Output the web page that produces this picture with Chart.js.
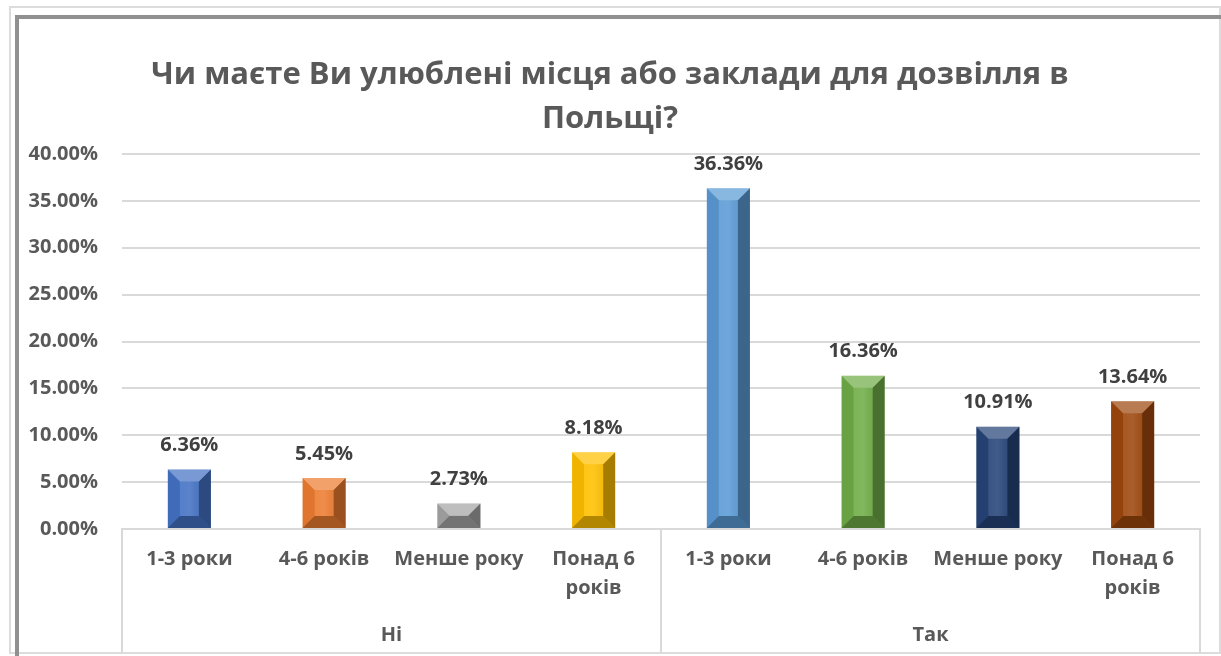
<!DOCTYPE html>
<html>
<head>
<meta charset="utf-8">
<script src="https://cdn.jsdelivr.net/npm/chart.js@4"></script>
<style>
  html, body { margin: 0; padding: 0; background: #fff; }
  #wrap { position: relative; width: 1221px; height: 656px; overflow: hidden; }
  .outer { position: absolute; left: 9px; top: 6px; width: 1208px; height: 644px;
           border: 2px solid #dcdcdc; }
  .inner { position: absolute; left: 15px; top: 15px; width: 1210px; height: 650px;
           border-left: 4px solid #909090; border-top: 4px solid #909090; }
  canvas { position: absolute; left: 0; top: 0; }
</style>
</head>
<body>
<div id="wrap">
  <div class="outer"></div>
  <div class="inner"></div>
  <canvas id="chart" width="1221" height="656"></canvas>
</div>
<script>
const titleLines = ['Чи маєте Ви улюблені місця або заклади для дозвілля в', 'Польщі?'];
const groups = ['Ні', 'Так'];
const groupSizes = [4, 4];
const categories = ['1-3 роки', '4-6 років', 'Менше року', ['Понад 6', 'років'],
                    '1-3 роки', '4-6 років', 'Менше року', ['Понад 6', 'років']];
const values = [6.36, 5.45, 2.73, 8.18, 36.36, 16.36, 10.91, 13.64];
const barColors = ['#4472C4', '#ED7D31', '#A5A5A5', '#FFC000',
                   '#5B9BD5', '#70AD47', '#264478', '#9E480E'];
const yTicks = [0, 5, 10, 15, 20, 25, 30, 35, 40];

const FONT = "'Open Sans', 'DejaVu Sans', sans-serif";
const textColor = '#595959';
const gridColor = '#d9d9d9';

// bevel look of the Excel bars
const bevelPlugin = {
  id: 'bevel',
  afterDatasetsDraw(chart) {
    const c = chart.ctx;
    chart.getDatasetMeta(0).data.forEach(bar => {
      const w = bar.width;
      const l = bar.x - w / 2, r = bar.x + w / 2;
      const t = Math.min(bar.y, bar.base), btm = Math.max(bar.y, bar.base);
      const b = Math.min(12, (btm - t) / 2, w * 0.3);
      const poly = (pts, fill) => {
        c.beginPath();
        c.moveTo(pts[0][0], pts[0][1]);
        for (let i = 1; i < pts.length; i++) c.lineTo(pts[i][0], pts[i][1]);
        c.closePath();
        c.fillStyle = fill;
        c.fill();
      };
      c.save();
      // face shading
      const g = c.createLinearGradient(l, 0, r, 0);
      g.addColorStop(0, 'rgba(255,255,255,0.05)');
      g.addColorStop(0.5, 'rgba(255,255,255,0.12)');
      g.addColorStop(1, 'rgba(0,0,0,0.05)');
      c.fillStyle = g;
      c.fillRect(l + b, t + b, w - 2 * b, btm - t - 2 * b);
      poly([[l, t], [r, t], [r - b, t + b], [l + b, t + b]], 'rgba(255,255,255,0.28)');
      poly([[l, btm], [r, btm], [r - b, btm - b], [l + b, btm - b]], 'rgba(0,0,0,0.3)');
      poly([[r, t], [r, btm], [r - b, btm - b], [r - b, t + b]], 'rgba(0,0,0,0.35)');
      poly([[l, t], [l, btm], [l + b, btm - b], [l + b, t + b]], 'rgba(0,0,0,0.06)');
      c.restore();
    });
  }
};

// value labels above the bars
const valueLabelPlugin = {
  id: 'valueLabels',
  afterDatasetsDraw(chart) {
    const c = chart.ctx;
    c.save();
    c.font = 'bold 20px ' + FONT;
    c.fillStyle = '#404040';
    c.textAlign = 'center';
    c.textBaseline = 'middle';
    chart.getDatasetMeta(0).data.forEach((bar, i) => {
      c.fillText(values[i].toFixed(2) + '%', bar.x, bar.y - 24);
    });
    c.restore();
  }
};

// group separators of the two-level category axis
const groupLinesPlugin = {
  id: 'groupLines',
  afterDraw(chart) {
    const c = chart.ctx;
    const xs = chart.scales.x;
    const half = (xs.getPixelForValue(1) - xs.getPixelForValue(0)) / 2;
    const edges = [xs.left];
    let idx = 0;
    groupSizes.forEach(n => { idx += n; edges.push(xs.getPixelForValue(idx - 1) + half); });
    c.save();
    c.strokeStyle = gridColor;
    c.lineWidth = 2;
    edges.forEach(x => {
      c.beginPath();
      c.moveTo(x, chart.chartArea.bottom);
      c.lineTo(x, chart.height - 3);
      c.stroke();
    });
    c.restore();
  }
};

new Chart(document.getElementById('chart'), {
  type: 'bar',
  data: {
    labels: categories,
    datasets: [{
      data: values,
      backgroundColor: barColors,
      borderWidth: 0,
      barPercentage: 0.64,
      categoryPercentage: 0.5
    }]
  },
  options: {
    responsive: false,
    animation: false,
    layout: { padding: { left: 20, right: 21, top: 0, bottom: 2 } },
    plugins: {
      legend: { display: false },
      tooltip: { enabled: false },
      title: {
        display: true,
        text: titleLines,
        color: textColor,
        font: { family: FONT, size: 31, weight: 'bold', lineHeight: 1.42 },
        padding: { top: 53, bottom: 13 }
      }
    },
    scales: {
      x: {
        grid: { display: false, drawTicks: false },
        border: { display: true, color: gridColor, width: 2 },
        ticks: {
          color: textColor, padding: 16, maxRotation: 0, autoSkip: false,
          font: { family: FONT, size: 20, weight: 'bold', lineHeight: 1.45 }
        },
        afterFit: s => { s.height = 80; }
      },
      x2: {
        type: 'category',
        labels: groups,
        position: 'bottom',
        offset: true,
        grid: { display: false, drawTicks: false },
        border: { display: false },
        ticks: {
          color: textColor, padding: 12,
          font: { family: FONT, size: 20, weight: 'bold', lineHeight: 1.45 }
        },
        afterFit: s => { s.height = 45; }
      },
      y: {
        min: yTicks[0],
        max: yTicks[yTicks.length - 1],
        afterBuildTicks: s => { s.ticks = yTicks.map(v => ({ value: v })); },
        grid: { color: gridColor, lineWidth: 2, drawTicks: false },
        border: { display: false },
        ticks: {
          color: textColor, padding: 24,
          font: { family: FONT, size: 20, weight: 'bold' },
          callback: v => v.toFixed(2) + '%'
        },
        afterFit: s => { s.width = 102; }
      }
    }
  },
  plugins: [bevelPlugin, valueLabelPlugin, groupLinesPlugin]
});
</script>
</body>
</html>
